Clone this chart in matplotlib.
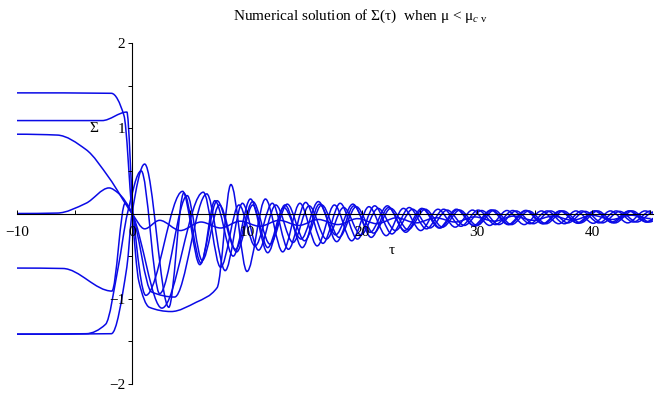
import numpy as np
import matplotlib
matplotlib.use("Agg")
import matplotlib.pyplot as plt
from matplotlib.path import Path
from matplotlib.patches import PathPatch

plt.rcParams['font.family'] = ['Liberation Serif', 'DejaVu Serif']
plt.rcParams['mathtext.fontset'] = 'custom'
plt.rcParams['mathtext.rm'] = 'Liberation Serif'
plt.rcParams['mathtext.it'] = 'Liberation Serif:italic'

# turning points of each solution curve (tau, Sigma)
curve_a = [(-10, 1.415), (-1.8, 1.41), (-0.7, 1.15), (0, 0.0), (0.6, -0.8), (1.5, -1.1), (3.4, -1.15),
           (5.6, -1.04), (7.4, -0.87), (8.6, 0.34), (10.0, -0.68), (11.6, 0.17), (13.1, -0.45),
           (14.6, 0.12), (16.1, -0.38), (17.6, 0.1), (19.1, -0.32), (20.6, 0.08), (22.1, -0.26),
           (23.6, 0.06), (25.1, -0.2), (26.6, 0.05), (28.1, -0.16), (29.6, 0.04), (31.1, -0.14),
           (32.6, 0.035), (34.1, -0.13), (35.6, 0.03), (37.1, -0.12), (38.6, 0.03), (40.1, -0.115),
           (41.6, 0.03), (43.1, -0.11), (44.6, 0.03), (45.5, 0.0)]
curve_b = [(-10, 1.09), (-2.6, 1.09), (-0.45, 1.19), (0.1, 0.0), (1.2, -0.96), (4.4, 0.26), (5.9, -0.6),
           (7.4, 0.15), (9.0, -0.42), (10.5, 0.14), (12.0, -0.36), (13.5, 0.11), (15.0, -0.32),
           (16.5, 0.1), (18.0, -0.28), (19.5, 0.08), (21.0, -0.23), (22.5, 0.06), (24.0, -0.19),
           (25.5, 0.05), (27.0, -0.16), (28.5, 0.04), (30.0, -0.14), (31.5, 0.04), (33.0, -0.13),
           (34.5, 0.03), (36.0, -0.12), (37.5, 0.03), (39.0, -0.11), (40.5, 0.03), (42.0, -0.11),
           (43.5, 0.03), (45.0, -0.1), (45.5, -0.08)]
curve_c = [(-10, 0.93), (-6.5, 0.92), (-4, 0.75), (-2, 0.42), (0, 0.0), (1.1, -0.18), (2.4, -0.08),
           (4.2, -0.2), (6.0, -0.1), (7.7, -0.17), (9.4, -0.09), (11.1, -0.15), (12.8, -0.08),
           (14.5, -0.14), (16.2, -0.07), (17.9, -0.13), (19.6, -0.06), (21.3, -0.12), (23.0, -0.05),
           (24.7, -0.11), (26.4, -0.05), (28.1, -0.1), (29.8, -0.04), (31.5, -0.09), (33.2, -0.03),
           (34.9, -0.08), (36.6, -0.03), (38.3, -0.08), (40.0, -0.02), (41.7, -0.07), (43.4, -0.02),
           (45.1, -0.06)]
curve_d = [(-10, 0.0), (-6.5, 0.005), (-4, 0.12), (-2.0, 0.3), (-1.2, 0.24), (0, 0.0), (1.7, -0.92),
           (3.7, -0.98), (6.5, 0.23), (8.1, -0.67), (9.6, 0.12), (11.0, -0.43), (12.5, 0.1),
           (14.0, -0.34), (15.4, 0.09), (16.9, -0.3), (18.4, 0.07), (19.9, -0.25), (21.4, 0.06),
           (22.9, -0.2), (24.4, 0.05), (25.9, -0.17), (27.4, 0.04), (28.9, -0.14), (30.4, 0.035),
           (31.9, -0.13), (33.4, 0.03), (34.9, -0.12), (36.4, 0.03), (37.9, -0.11), (39.4, 0.025),
           (40.9, -0.11), (42.4, 0.025), (43.9, -0.1), (45.4, 0.02)]
curve_e = [(-10, -0.64), (-6, -0.645), (-1.75, -0.91), (-0.6, 0.12), (0, 0.0), (2.6, -1.11),
           (6.2, 0.25), (7.7, -0.63), (9.3, 0.1), (10.7, -0.38), (12.2, 0.12), (13.6, -0.42),
           (15.1, 0.13), (16.6, -0.35), (18.1, 0.12), (19.6, -0.3), (21.1, 0.09), (22.6, -0.24),
           (24.1, 0.07), (25.6, -0.18), (27.1, 0.05), (28.6, -0.15), (30.1, 0.04), (31.6, -0.13),
           (33.1, 0.035), (34.6, -0.12), (36.1, 0.03), (37.6, -0.12), (39.1, 0.03), (40.6, -0.11),
           (42.1, 0.03), (43.6, -0.1), (45.1, 0.03)]
curve_f = [(-10, -1.415), (-4.0, -1.41), (-2.3, -1.3), (-1.2, -0.63), (-0.4, 0.0), (0.8, 0.5),
           (2.4, -0.94), (4.8, 0.21), (6.1, -0.55), (7.6, 0.1), (9.1, -0.45), (10.5, 0.1),
           (11.8, -0.4), (13.2, 0.07), (14.7, -0.3), (16.2, 0.14), (17.7, -0.25), (19.2, 0.11),
           (20.7, -0.22), (22.2, 0.09), (23.7, -0.2), (25.2, 0.06), (26.7, -0.17), (28.2, 0.05),
           (29.7, -0.14), (31.2, 0.04), (32.7, -0.13), (34.2, 0.035), (35.7, -0.12), (37.2, 0.03),
           (38.7, -0.11), (40.2, 0.03), (41.7, -0.1), (43.2, 0.03), (44.7, -0.1), (45.5, -0.05)]
curve_g = [(-10, -1.415), (-1.8, -1.41), (-0.45, -0.63), (0, 0.0), (1.1, 0.58), (3.2, -1.1),
           (4.5, 0.24), (6.0, -0.58), (7.2, 0.15), (8.8, -0.5), (10.3, 0.17), (11.8, -0.46),
           (13.3, 0.1), (14.8, -0.4), (16.3, 0.11), (17.8, -0.33), (19.3, 0.09), (20.8, -0.28),
           (22.3, 0.07), (23.8, -0.22), (25.3, 0.055), (26.8, -0.17), (28.3, 0.045), (29.8, -0.15),
           (31.3, 0.04), (32.8, -0.13), (34.3, 0.035), (35.8, -0.12), (37.3, 0.03), (38.8, -0.115),
           (40.3, 0.03), (41.8, -0.11), (43.3, 0.03), (44.8, -0.1), (45.5, -0.06)]

curves = [curve_a, curve_b, curve_c, curve_d, curve_e, curve_f, curve_g]

x_major = [-10, 0, 10, 20, 30, 40]
x_minor = [-5, 5, 15, 25, 35, 45]
y_major = [-2, -1, 1, 2]
y_minor = [-1.5, -0.5, 0.5, 1.5]


def smooth_path(pts):
    # monotone cubic (bezier) through the turning points
    x = np.array([p[0] for p in pts], float)
    y = np.array([p[1] for p in pts], float)
    h = np.diff(x)
    d = np.diff(y) / h
    m = np.zeros(len(x))
    for k in range(1, len(x) - 1):
        if d[k - 1] * d[k] > 0:
            w1 = 2 * h[k] + h[k - 1]
            w2 = h[k] + 2 * h[k - 1]
            m[k] = (w1 + w2) / (w1 / d[k - 1] + w2 / d[k])
    verts = [(x[0], y[0])]
    codes = [Path.MOVETO]
    for k in range(len(x) - 1):
        verts.append((x[k] + h[k] / 3, y[k] + m[k] * h[k] / 3))
        verts.append((x[k + 1] - h[k] / 3, y[k + 1] - m[k + 1] * h[k] / 3))
        verts.append((x[k + 1], y[k + 1]))
        codes += [Path.CURVE4] * 3
    return Path(verts, codes)


fig = plt.figure(figsize=(6.56, 4.0), dpi=100)
ax = fig.add_axes([17 / 656, 16 / 400, 636 / 656, 341 / 400])

for c in curves:
    ax.add_patch(PathPatch(smooth_path(c), fill=False, edgecolor='#0a0ae6', lw=1.1))

ax.set_xlim(-10, 45.3)
ax.set_ylim(-2, 2)

for s in ['top', 'right']:
    ax.spines[s].set_visible(False)
ax.spines['left'].set_position(('data', 0))
ax.spines['bottom'].set_position(('data', 0))
ax.spines['left'].set_linewidth(0.8)
ax.spines['bottom'].set_linewidth(0.8)

ax.set_xticks(x_major)
ax.set_xticklabels(['\u221210', '0', '10', '20', '30', '40'])
ax.set_xticks(x_minor, minor=True)
ax.set_yticks(y_major)
ax.set_yticklabels(['\u22122', '\u22121', '1', '2'])
ax.set_yticks(y_minor, minor=True)
ax.tick_params(axis='x', which='both', direction='in', length=3, width=0.7, labelsize=11, pad=9)
ax.tick_params(axis='y', which='both', direction='out', length=3, width=0.7, labelsize=11, pad=2)

ax.text(-3.3, 1.0, '\u03a3', fontsize=11, ha='center', va='center')
ax.text(22.6, -0.43, '\u03c4', fontsize=11, ha='center', va='center')

fig.text(233 / 656, 1 - 16 / 400,
         'Numerical solution of \u03a3(\u03c4)  when \u03bc < \u03bc' + r'$_{c\ \mathrm{v}}$',
         fontsize=11, ha='left', va='center')

fig.savefig('out.png', dpi=100)
